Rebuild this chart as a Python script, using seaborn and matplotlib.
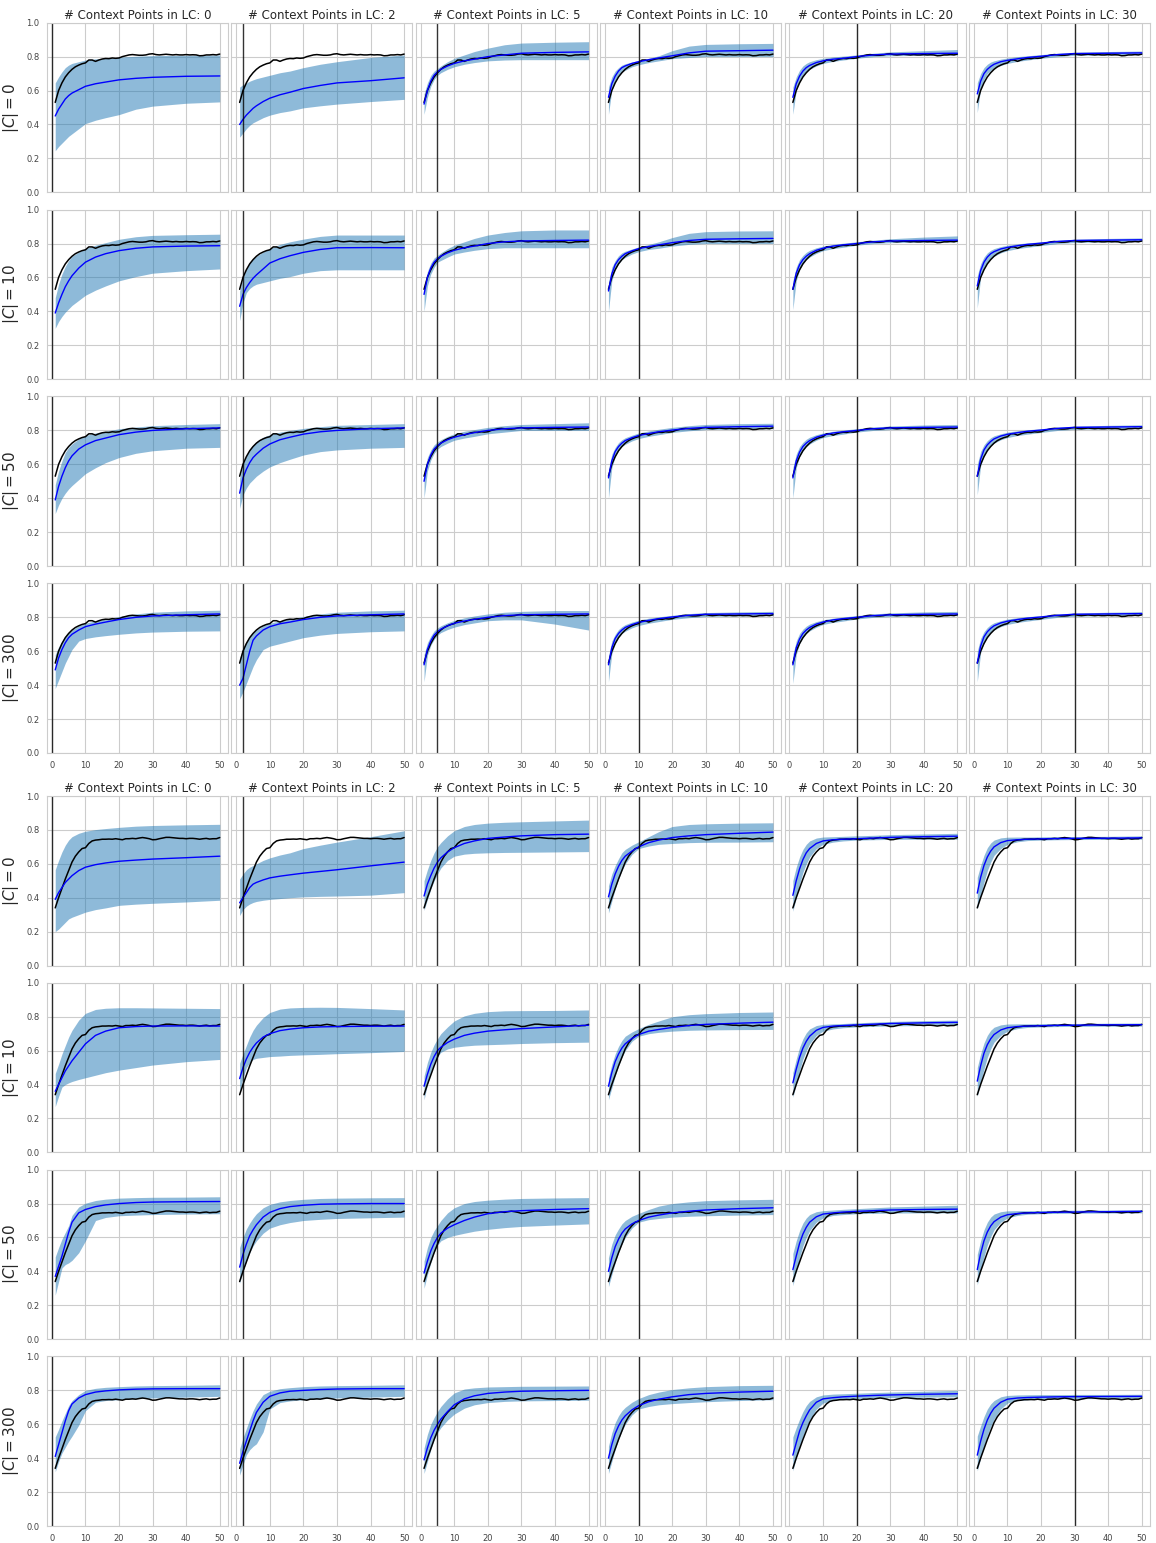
import matplotlib
matplotlib.use("Agg")
import matplotlib.pyplot as plt
import seaborn as sns

# Step positions sampled for the model curves (mean and band)
XS = [1, 2, 3, 4, 5, 6, 8, 10, 13, 16, 20, 25, 30, 40, 50]
# Full step axis for the reference (black) curves
STEPS = list(range(1, 51))

LC_POINTS = [0, 2, 5, 10, 20, 30]
C_SIZES = [0, 10, 50, 300]

# Reference curve, upper block
TRUTH_TOP = [0.53, 0.60, 0.645, 0.68, 0.705, 0.725, 0.74, 0.75, 0.758, 0.763,
             0.78, 0.78, 0.772, 0.78, 0.786, 0.789, 0.788, 0.792, 0.79, 0.792,
             0.80, 0.805, 0.81, 0.812, 0.81, 0.808, 0.808, 0.81, 0.815, 0.817,
             0.812, 0.81, 0.812, 0.814, 0.812, 0.81, 0.812, 0.81, 0.81, 0.812,
             0.81, 0.811, 0.81, 0.805, 0.806, 0.81, 0.81, 0.812, 0.81, 0.815]
# Reference curve, lower block
TRUTH_BOTTOM = [0.34, 0.40, 0.455, 0.51, 0.56, 0.61, 0.645, 0.67, 0.69, 0.695,
                0.72, 0.735, 0.74, 0.742, 0.745, 0.745, 0.746, 0.745, 0.748, 0.745,
                0.742, 0.748, 0.748, 0.75, 0.748, 0.752, 0.755, 0.752, 0.748, 0.742,
                0.743, 0.748, 0.752, 0.756, 0.756, 0.754, 0.752, 0.75, 0.75, 0.748,
                0.75, 0.75, 0.748, 0.745, 0.748, 0.75, 0.746, 0.748, 0.748, 0.755]

# ---------------- upper block ----------------
top_c0_mean = [
    [0.45, 0.49, 0.52, 0.55, 0.57, 0.585, 0.605, 0.625, 0.64, 0.65, 0.663, 0.672, 0.678, 0.684, 0.686],
    [0.40, 0.43, 0.455, 0.475, 0.495, 0.51, 0.535, 0.555, 0.575, 0.59, 0.612, 0.63, 0.645, 0.658, 0.675],
    [0.52, 0.60, 0.655, 0.69, 0.71, 0.725, 0.745, 0.76, 0.775, 0.785, 0.80, 0.81, 0.82, 0.825, 0.828],
    [0.56, 0.64, 0.685, 0.715, 0.735, 0.745, 0.76, 0.77, 0.782, 0.792, 0.805, 0.822, 0.832, 0.835, 0.838],
    [0.56, 0.64, 0.685, 0.715, 0.735, 0.748, 0.765, 0.775, 0.785, 0.79, 0.80, 0.81, 0.815, 0.818, 0.82],
    [0.58, 0.655, 0.70, 0.725, 0.742, 0.755, 0.77, 0.778, 0.787, 0.795, 0.802, 0.812, 0.818, 0.82, 0.822],
]
top_c0_lo = [
    [0.245, 0.27, 0.29, 0.31, 0.33, 0.345, 0.375, 0.405, 0.425, 0.44, 0.458, 0.49, 0.508, 0.525, 0.533],
    [0.325, 0.35, 0.375, 0.395, 0.41, 0.42, 0.44, 0.455, 0.47, 0.48, 0.498, 0.51, 0.52, 0.535, 0.548],
    [0.46, 0.56, 0.625, 0.665, 0.69, 0.705, 0.725, 0.74, 0.755, 0.765, 0.775, 0.78, 0.782, 0.782, 0.782],
    [0.46, 0.60, 0.655, 0.69, 0.71, 0.72, 0.74, 0.752, 0.765, 0.775, 0.788, 0.795, 0.80, 0.80, 0.80],
    [0.46, 0.60, 0.655, 0.69, 0.71, 0.725, 0.745, 0.76, 0.772, 0.78, 0.79, 0.80, 0.805, 0.808, 0.81],
    [0.47, 0.61, 0.665, 0.70, 0.718, 0.73, 0.748, 0.76, 0.772, 0.78, 0.79, 0.80, 0.808, 0.81, 0.812],
]
top_c0_hi = [
    [0.645, 0.68, 0.71, 0.735, 0.75, 0.76, 0.77, 0.78, 0.787, 0.79, 0.797, 0.802, 0.806, 0.808, 0.81],
    [0.62, 0.635, 0.645, 0.655, 0.663, 0.67, 0.68, 0.69, 0.705, 0.715, 0.735, 0.755, 0.77, 0.795, 0.81],
    [0.58, 0.645, 0.69, 0.715, 0.73, 0.745, 0.77, 0.79, 0.81, 0.83, 0.85, 0.87, 0.88, 0.885, 0.888],
    [0.62, 0.68, 0.715, 0.735, 0.75, 0.758, 0.768, 0.778, 0.79, 0.805, 0.835, 0.862, 0.872, 0.876, 0.878],
    [0.62, 0.68, 0.72, 0.745, 0.76, 0.77, 0.782, 0.79, 0.798, 0.803, 0.81, 0.82, 0.828, 0.835, 0.842],
    [0.645, 0.70, 0.735, 0.755, 0.768, 0.775, 0.785, 0.792, 0.80, 0.805, 0.812, 0.82, 0.826, 0.83, 0.833],
]

top_c10_mean = [
    [0.39, 0.45, 0.50, 0.545, 0.58, 0.61, 0.655, 0.69, 0.72, 0.74, 0.758, 0.772, 0.78, 0.785, 0.787],
    [0.43, 0.50, 0.54, 0.57, 0.595, 0.615, 0.65, 0.685, 0.71, 0.728, 0.748, 0.765, 0.775, 0.776, 0.775],
    [0.50, 0.60, 0.655, 0.69, 0.71, 0.725, 0.745, 0.76, 0.775, 0.785, 0.80, 0.81, 0.815, 0.818, 0.82],
    [0.52, 0.62, 0.675, 0.705, 0.725, 0.74, 0.757, 0.77, 0.782, 0.792, 0.805, 0.818, 0.825, 0.828, 0.83],
    [0.53, 0.625, 0.675, 0.705, 0.725, 0.74, 0.76, 0.772, 0.785, 0.792, 0.80, 0.81, 0.815, 0.818, 0.82],
    [0.55, 0.64, 0.69, 0.72, 0.74, 0.752, 0.768, 0.777, 0.787, 0.795, 0.802, 0.812, 0.818, 0.82, 0.822],
]
top_c10_lo = [
    [0.30, 0.34, 0.37, 0.395, 0.415, 0.435, 0.465, 0.495, 0.525, 0.55, 0.58, 0.605, 0.625, 0.64, 0.65],
    [0.345, 0.45, 0.51, 0.535, 0.55, 0.56, 0.57, 0.58, 0.595, 0.605, 0.625, 0.64, 0.645, 0.645, 0.645],
    [0.40, 0.55, 0.62, 0.66, 0.69, 0.70, 0.72, 0.738, 0.75, 0.76, 0.77, 0.775, 0.775, 0.775, 0.775],
    [0.40, 0.58, 0.645, 0.68, 0.705, 0.718, 0.738, 0.752, 0.765, 0.772, 0.785, 0.795, 0.80, 0.80, 0.80],
    [0.41, 0.58, 0.645, 0.68, 0.705, 0.72, 0.742, 0.758, 0.77, 0.778, 0.79, 0.80, 0.805, 0.808, 0.81],
    [0.42, 0.60, 0.655, 0.69, 0.712, 0.725, 0.745, 0.758, 0.77, 0.778, 0.788, 0.80, 0.806, 0.81, 0.812],
]
top_c10_hi = [
    [0.48, 0.56, 0.62, 0.665, 0.70, 0.725, 0.75, 0.77, 0.79, 0.805, 0.825, 0.84, 0.848, 0.852, 0.855],
    [0.52, 0.60, 0.65, 0.685, 0.71, 0.725, 0.75, 0.77, 0.795, 0.81, 0.826, 0.842, 0.85, 0.85, 0.85],
    [0.54, 0.635, 0.685, 0.715, 0.73, 0.745, 0.77, 0.79, 0.81, 0.83, 0.85, 0.865, 0.875, 0.88, 0.88],
    [0.57, 0.66, 0.70, 0.728, 0.745, 0.755, 0.768, 0.78, 0.795, 0.81, 0.835, 0.86, 0.87, 0.874, 0.875],
    [0.58, 0.66, 0.705, 0.73, 0.748, 0.76, 0.775, 0.785, 0.795, 0.802, 0.81, 0.82, 0.828, 0.838, 0.845],
    [0.61, 0.68, 0.72, 0.745, 0.76, 0.77, 0.782, 0.79, 0.798, 0.804, 0.81, 0.82, 0.825, 0.83, 0.833],
]

top_c50_mean = [
    [0.39, 0.47, 0.53, 0.58, 0.62, 0.65, 0.69, 0.715, 0.74, 0.755, 0.775, 0.79, 0.80, 0.81, 0.815],
    [0.43, 0.52, 0.57, 0.61, 0.64, 0.66, 0.695, 0.72, 0.745, 0.76, 0.778, 0.792, 0.80, 0.81, 0.815],
    [0.50, 0.60, 0.655, 0.69, 0.71, 0.725, 0.745, 0.76, 0.775, 0.787, 0.80, 0.81, 0.815, 0.818, 0.82],
    [0.52, 0.62, 0.675, 0.705, 0.725, 0.74, 0.757, 0.77, 0.782, 0.792, 0.802, 0.812, 0.818, 0.822, 0.825],
    [0.52, 0.62, 0.672, 0.705, 0.725, 0.74, 0.76, 0.772, 0.785, 0.792, 0.80, 0.81, 0.815, 0.818, 0.82],
    [0.53, 0.63, 0.685, 0.715, 0.735, 0.75, 0.767, 0.777, 0.787, 0.795, 0.802, 0.812, 0.818, 0.82, 0.822],
]
top_c50_lo = [
    [0.31, 0.36, 0.40, 0.43, 0.455, 0.475, 0.51, 0.545, 0.58, 0.61, 0.64, 0.665, 0.68, 0.695, 0.70],
    [0.34, 0.42, 0.46, 0.49, 0.51, 0.53, 0.56, 0.585, 0.61, 0.63, 0.655, 0.675, 0.685, 0.695, 0.70],
    [0.40, 0.56, 0.625, 0.665, 0.69, 0.705, 0.725, 0.742, 0.755, 0.765, 0.78, 0.79, 0.80, 0.80, 0.80],
    [0.40, 0.58, 0.645, 0.68, 0.705, 0.718, 0.738, 0.752, 0.765, 0.775, 0.788, 0.798, 0.805, 0.808, 0.81],
    [0.40, 0.58, 0.645, 0.68, 0.705, 0.72, 0.742, 0.758, 0.77, 0.778, 0.79, 0.80, 0.805, 0.808, 0.81],
    [0.42, 0.59, 0.65, 0.685, 0.71, 0.725, 0.745, 0.758, 0.77, 0.778, 0.788, 0.80, 0.806, 0.81, 0.812],
]
top_c50_hi = [
    [0.48, 0.56, 0.62, 0.67, 0.70, 0.72, 0.75, 0.77, 0.785, 0.795, 0.81, 0.82, 0.828, 0.835, 0.84],
    [0.52, 0.60, 0.65, 0.69, 0.715, 0.735, 0.76, 0.775, 0.79, 0.80, 0.812, 0.822, 0.83, 0.835, 0.84],
    [0.56, 0.64, 0.685, 0.715, 0.732, 0.745, 0.765, 0.78, 0.795, 0.805, 0.818, 0.828, 0.835, 0.84, 0.845],
    [0.57, 0.66, 0.70, 0.728, 0.745, 0.757, 0.772, 0.785, 0.797, 0.807, 0.818, 0.828, 0.835, 0.84, 0.842],
    [0.58, 0.66, 0.705, 0.73, 0.748, 0.76, 0.775, 0.785, 0.795, 0.802, 0.81, 0.82, 0.826, 0.832, 0.835],
    [0.60, 0.675, 0.715, 0.74, 0.757, 0.768, 0.78, 0.79, 0.798, 0.804, 0.81, 0.82, 0.825, 0.83, 0.833],
]

top_c300_mean = [
    [0.49, 0.56, 0.61, 0.65, 0.68, 0.70, 0.725, 0.745, 0.76, 0.772, 0.787, 0.80, 0.808, 0.815, 0.82],
    [0.40, 0.44, 0.52, 0.60, 0.665, 0.69, 0.725, 0.745, 0.762, 0.772, 0.787, 0.80, 0.808, 0.815, 0.82],
    [0.52, 0.61, 0.66, 0.695, 0.715, 0.73, 0.75, 0.765, 0.778, 0.788, 0.80, 0.81, 0.815, 0.818, 0.82],
    [0.52, 0.62, 0.675, 0.705, 0.725, 0.74, 0.757, 0.77, 0.782, 0.792, 0.802, 0.812, 0.818, 0.82, 0.822],
    [0.52, 0.62, 0.672, 0.705, 0.725, 0.74, 0.76, 0.772, 0.785, 0.792, 0.80, 0.81, 0.815, 0.818, 0.82],
    [0.53, 0.63, 0.685, 0.715, 0.735, 0.75, 0.767, 0.777, 0.787, 0.795, 0.802, 0.812, 0.818, 0.82, 0.822],
]
top_c300_lo = [
    [0.38, 0.43, 0.48, 0.53, 0.57, 0.61, 0.66, 0.675, 0.685, 0.692, 0.70, 0.708, 0.713, 0.718, 0.72],
    [0.32, 0.36, 0.41, 0.46, 0.51, 0.55, 0.61, 0.63, 0.645, 0.66, 0.68, 0.695, 0.705, 0.715, 0.72],
    [0.42, 0.575, 0.635, 0.67, 0.695, 0.71, 0.728, 0.742, 0.757, 0.767, 0.78, 0.785, 0.785, 0.76, 0.725],
    [0.42, 0.585, 0.645, 0.68, 0.705, 0.718, 0.738, 0.752, 0.765, 0.775, 0.788, 0.798, 0.805, 0.808, 0.81],
    [0.41, 0.58, 0.645, 0.68, 0.705, 0.72, 0.742, 0.758, 0.77, 0.778, 0.79, 0.80, 0.805, 0.808, 0.81],
    [0.42, 0.59, 0.65, 0.685, 0.71, 0.725, 0.745, 0.758, 0.77, 0.778, 0.788, 0.80, 0.806, 0.81, 0.812],
]
top_c300_hi = [
    [0.58, 0.625, 0.66, 0.69, 0.71, 0.725, 0.75, 0.765, 0.78, 0.79, 0.805, 0.82, 0.83, 0.838, 0.842],
    [0.56, 0.62, 0.66, 0.69, 0.71, 0.725, 0.75, 0.765, 0.78, 0.79, 0.805, 0.82, 0.83, 0.838, 0.842],
    [0.58, 0.65, 0.69, 0.72, 0.737, 0.75, 0.768, 0.782, 0.797, 0.808, 0.82, 0.83, 0.835, 0.84, 0.84],
    [0.57, 0.66, 0.70, 0.728, 0.745, 0.757, 0.772, 0.783, 0.795, 0.803, 0.812, 0.822, 0.828, 0.832, 0.835],
    [0.58, 0.66, 0.705, 0.73, 0.748, 0.76, 0.775, 0.785, 0.795, 0.802, 0.81, 0.82, 0.826, 0.832, 0.835],
    [0.60, 0.675, 0.715, 0.74, 0.757, 0.768, 0.78, 0.79, 0.798, 0.804, 0.81, 0.82, 0.825, 0.83, 0.833],
]

# ---------------- lower block ----------------
bot_c0_mean = [
    [0.39, 0.43, 0.46, 0.49, 0.51, 0.53, 0.56, 0.58, 0.595, 0.605, 0.615, 0.622, 0.628, 0.636, 0.645],
    [0.37, 0.40, 0.43, 0.46, 0.48, 0.49, 0.505, 0.517, 0.527, 0.535, 0.545, 0.555, 0.565, 0.588, 0.61],
    [0.41, 0.48, 0.53, 0.575, 0.61, 0.635, 0.67, 0.695, 0.72, 0.735, 0.75, 0.758, 0.765, 0.772, 0.775],
    [0.405, 0.48, 0.54, 0.585, 0.62, 0.645, 0.675, 0.70, 0.725, 0.74, 0.755, 0.765, 0.772, 0.78, 0.787],
    [0.414, 0.50, 0.57, 0.625, 0.665, 0.69, 0.72, 0.735, 0.742, 0.745, 0.748, 0.752, 0.756, 0.76, 0.763],
    [0.427, 0.52, 0.59, 0.64, 0.675, 0.70, 0.725, 0.737, 0.742, 0.745, 0.747, 0.749, 0.75, 0.751, 0.753],
]
bot_c0_lo = [
    [0.20, 0.215, 0.235, 0.255, 0.275, 0.285, 0.30, 0.315, 0.33, 0.34, 0.355, 0.362, 0.367, 0.375, 0.385],
    [0.295, 0.33, 0.35, 0.363, 0.372, 0.378, 0.385, 0.39, 0.395, 0.40, 0.405, 0.408, 0.41, 0.415, 0.43],
    [0.325, 0.39, 0.45, 0.50, 0.54, 0.575, 0.62, 0.645, 0.657, 0.662, 0.665, 0.667, 0.668, 0.67, 0.672],
    [0.31, 0.38, 0.45, 0.51, 0.56, 0.60, 0.655, 0.69, 0.705, 0.715, 0.72, 0.725, 0.727, 0.728, 0.73],
    [0.32, 0.40, 0.48, 0.55, 0.60, 0.64, 0.69, 0.715, 0.728, 0.735, 0.74, 0.742, 0.744, 0.745, 0.745],
    [0.335, 0.41, 0.49, 0.56, 0.61, 0.65, 0.69, 0.715, 0.73, 0.737, 0.74, 0.742, 0.743, 0.744, 0.745],
]
bot_c0_hi = [
    [0.565, 0.62, 0.67, 0.71, 0.74, 0.76, 0.78, 0.792, 0.802, 0.808, 0.815, 0.822, 0.826, 0.83, 0.833],
    [0.51, 0.54, 0.565, 0.58, 0.59, 0.60, 0.62, 0.635, 0.652, 0.665, 0.69, 0.71, 0.728, 0.76, 0.795],
    [0.50, 0.565, 0.62, 0.665, 0.70, 0.725, 0.765, 0.795, 0.82, 0.832, 0.84, 0.845, 0.848, 0.853, 0.858],
    [0.47, 0.54, 0.59, 0.63, 0.665, 0.685, 0.71, 0.73, 0.76, 0.79, 0.82, 0.832, 0.836, 0.84, 0.842],
    [0.50, 0.58, 0.64, 0.685, 0.715, 0.735, 0.752, 0.758, 0.76, 0.762, 0.765, 0.768, 0.772, 0.776, 0.78],
    [0.52, 0.59, 0.65, 0.695, 0.723, 0.74, 0.753, 0.757, 0.758, 0.758, 0.759, 0.76, 0.761, 0.762, 0.765],
]

bot_c10_mean = [
    [0.36, 0.40, 0.44, 0.48, 0.51, 0.54, 0.59, 0.64, 0.69, 0.715, 0.735, 0.742, 0.745, 0.746, 0.745],
    [0.435, 0.50, 0.55, 0.59, 0.62, 0.645, 0.68, 0.70, 0.718, 0.727, 0.735, 0.74, 0.742, 0.744, 0.745],
    [0.39, 0.46, 0.52, 0.565, 0.60, 0.62, 0.648, 0.668, 0.69, 0.703, 0.715, 0.723, 0.73, 0.74, 0.75],
    [0.39, 0.47, 0.535, 0.58, 0.615, 0.64, 0.672, 0.695, 0.715, 0.725, 0.737, 0.748, 0.755, 0.762, 0.768],
    [0.41, 0.49, 0.56, 0.615, 0.655, 0.685, 0.72, 0.737, 0.745, 0.748, 0.752, 0.756, 0.76, 0.764, 0.767],
    [0.42, 0.51, 0.585, 0.635, 0.67, 0.695, 0.722, 0.735, 0.742, 0.745, 0.747, 0.749, 0.75, 0.752, 0.753],
]
bot_c10_lo = [
    [0.27, 0.33, 0.385, 0.40, 0.41, 0.418, 0.43, 0.44, 0.455, 0.47, 0.485, 0.50, 0.515, 0.535, 0.548],
    [0.355, 0.44, 0.50, 0.53, 0.548, 0.555, 0.56, 0.565, 0.568, 0.572, 0.575, 0.578, 0.582, 0.588, 0.595],
    [0.31, 0.40, 0.47, 0.525, 0.565, 0.59, 0.61, 0.62, 0.627, 0.632, 0.635, 0.638, 0.642, 0.647, 0.65],
    [0.31, 0.38, 0.45, 0.51, 0.56, 0.60, 0.655, 0.685, 0.70, 0.708, 0.715, 0.72, 0.722, 0.724, 0.725],
    [0.325, 0.40, 0.48, 0.55, 0.60, 0.64, 0.69, 0.715, 0.728, 0.735, 0.74, 0.743, 0.746, 0.748, 0.75],
    [0.33, 0.41, 0.49, 0.56, 0.61, 0.65, 0.69, 0.715, 0.73, 0.737, 0.74, 0.742, 0.743, 0.744, 0.745],
]
bot_c10_hi = [
    [0.465, 0.52, 0.58, 0.63, 0.68, 0.72, 0.78, 0.82, 0.843, 0.85, 0.853, 0.853, 0.852, 0.85, 0.848],
    [0.525, 0.58, 0.63, 0.68, 0.72, 0.75, 0.795, 0.825, 0.845, 0.852, 0.855, 0.856, 0.855, 0.848, 0.84],
    [0.45, 0.53, 0.59, 0.635, 0.67, 0.70, 0.74, 0.775, 0.805, 0.82, 0.83, 0.835, 0.836, 0.837, 0.84],
    [0.44, 0.52, 0.58, 0.625, 0.66, 0.685, 0.71, 0.73, 0.755, 0.775, 0.80, 0.812, 0.818, 0.825, 0.828],
    [0.47, 0.55, 0.62, 0.67, 0.705, 0.728, 0.748, 0.755, 0.758, 0.76, 0.764, 0.768, 0.772, 0.777, 0.78],
    [0.50, 0.58, 0.645, 0.69, 0.72, 0.738, 0.752, 0.757, 0.758, 0.758, 0.759, 0.76, 0.76, 0.762, 0.763],
]

bot_c50_mean = [
    [0.37, 0.43, 0.49, 0.56, 0.63, 0.69, 0.745, 0.765, 0.782, 0.792, 0.80, 0.806, 0.809, 0.811, 0.812],
    [0.425, 0.50, 0.56, 0.61, 0.645, 0.675, 0.72, 0.748, 0.77, 0.782, 0.79, 0.796, 0.798, 0.80, 0.80],
    [0.39, 0.46, 0.52, 0.565, 0.60, 0.625, 0.655, 0.675, 0.70, 0.72, 0.74, 0.752, 0.758, 0.765, 0.77],
    [0.40, 0.48, 0.545, 0.59, 0.625, 0.65, 0.68, 0.70, 0.72, 0.732, 0.745, 0.755, 0.762, 0.77, 0.775],
    [0.41, 0.49, 0.565, 0.62, 0.66, 0.69, 0.722, 0.738, 0.745, 0.75, 0.754, 0.758, 0.762, 0.765, 0.767],
    [0.41, 0.505, 0.58, 0.632, 0.668, 0.693, 0.72, 0.734, 0.741, 0.745, 0.747, 0.749, 0.75, 0.752, 0.754],
]
bot_c50_lo = [
    [0.26, 0.34, 0.42, 0.44, 0.45, 0.465, 0.51, 0.58, 0.70, 0.718, 0.728, 0.732, 0.735, 0.738, 0.74],
    [0.33, 0.40, 0.46, 0.51, 0.55, 0.58, 0.625, 0.655, 0.675, 0.688, 0.70, 0.707, 0.712, 0.716, 0.72],
    [0.30, 0.38, 0.45, 0.51, 0.555, 0.58, 0.60, 0.612, 0.625, 0.637, 0.648, 0.658, 0.665, 0.673, 0.68],
    [0.31, 0.38, 0.45, 0.51, 0.56, 0.60, 0.655, 0.69, 0.705, 0.712, 0.72, 0.725, 0.728, 0.732, 0.735],
    [0.315, 0.40, 0.48, 0.55, 0.60, 0.64, 0.69, 0.715, 0.73, 0.735, 0.74, 0.742, 0.744, 0.745, 0.745],
    [0.32, 0.405, 0.485, 0.555, 0.605, 0.645, 0.69, 0.715, 0.73, 0.737, 0.74, 0.742, 0.743, 0.744, 0.745],
]
bot_c50_hi = [
    [0.485, 0.54, 0.59, 0.63, 0.67, 0.73, 0.78, 0.802, 0.818, 0.826, 0.832, 0.835, 0.837, 0.838, 0.84],
    [0.54, 0.60, 0.65, 0.685, 0.715, 0.74, 0.775, 0.795, 0.81, 0.818, 0.825, 0.83, 0.832, 0.834, 0.835],
    [0.46, 0.54, 0.60, 0.64, 0.67, 0.70, 0.745, 0.775, 0.80, 0.812, 0.82, 0.826, 0.83, 0.833, 0.835],
    [0.48, 0.56, 0.615, 0.65, 0.68, 0.70, 0.725, 0.742, 0.765, 0.785, 0.80, 0.81, 0.817, 0.822, 0.825],
    [0.505, 0.58, 0.64, 0.685, 0.715, 0.735, 0.752, 0.758, 0.762, 0.766, 0.77, 0.775, 0.78, 0.785, 0.79],
    [0.50, 0.58, 0.645, 0.69, 0.72, 0.738, 0.752, 0.757, 0.758, 0.758, 0.759, 0.76, 0.761, 0.762, 0.764],
]

bot_c300_mean = [
    [0.41, 0.48, 0.55, 0.62, 0.68, 0.72, 0.755, 0.775, 0.79, 0.797, 0.803, 0.807, 0.809, 0.81, 0.81],
    [0.37, 0.44, 0.50, 0.56, 0.62, 0.67, 0.73, 0.765, 0.785, 0.795, 0.80, 0.805, 0.808, 0.81, 0.81],
    [0.39, 0.46, 0.52, 0.565, 0.60, 0.63, 0.675, 0.715, 0.75, 0.768, 0.782, 0.79, 0.795, 0.798, 0.80],
    [0.40, 0.48, 0.545, 0.59, 0.625, 0.65, 0.685, 0.71, 0.733, 0.748, 0.762, 0.775, 0.782, 0.79, 0.795],
    [0.418, 0.49, 0.56, 0.61, 0.65, 0.685, 0.73, 0.75, 0.757, 0.762, 0.766, 0.77, 0.773, 0.777, 0.78],
    [0.418, 0.50, 0.57, 0.625, 0.665, 0.695, 0.73, 0.748, 0.755, 0.758, 0.76, 0.762, 0.763, 0.764, 0.765],
]
bot_c300_lo = [
    [0.32, 0.38, 0.43, 0.465, 0.50, 0.53, 0.595, 0.68, 0.73, 0.74, 0.745, 0.75, 0.755, 0.76, 0.765],
    [0.30, 0.36, 0.42, 0.45, 0.47, 0.485, 0.555, 0.69, 0.728, 0.738, 0.745, 0.75, 0.755, 0.76, 0.765],
    [0.31, 0.38, 0.45, 0.51, 0.55, 0.58, 0.625, 0.66, 0.695, 0.715, 0.728, 0.735, 0.738, 0.74, 0.742],
    [0.31, 0.38, 0.45, 0.51, 0.56, 0.60, 0.655, 0.69, 0.705, 0.715, 0.722, 0.728, 0.733, 0.74, 0.745],
    [0.325, 0.40, 0.47, 0.53, 0.58, 0.625, 0.69, 0.725, 0.742, 0.748, 0.752, 0.755, 0.757, 0.76, 0.762],
    [0.325, 0.40, 0.47, 0.535, 0.585, 0.63, 0.69, 0.725, 0.74, 0.745, 0.748, 0.75, 0.751, 0.752, 0.753],
]
bot_c300_hi = [
    [0.525, 0.57, 0.62, 0.665, 0.71, 0.74, 0.775, 0.80, 0.812, 0.818, 0.822, 0.826, 0.828, 0.83, 0.833],
    [0.455, 0.52, 0.575, 0.63, 0.68, 0.72, 0.775, 0.795, 0.81, 0.816, 0.822, 0.826, 0.828, 0.83, 0.833],
    [0.46, 0.54, 0.60, 0.64, 0.675, 0.705, 0.75, 0.785, 0.808, 0.815, 0.82, 0.822, 0.824, 0.825, 0.826],
    [0.47, 0.55, 0.61, 0.65, 0.68, 0.70, 0.73, 0.752, 0.775, 0.79, 0.805, 0.815, 0.822, 0.828, 0.83],
    [0.525, 0.58, 0.63, 0.675, 0.71, 0.735, 0.762, 0.773, 0.778, 0.78, 0.783, 0.787, 0.79, 0.795, 0.80],
    [0.53, 0.59, 0.645, 0.69, 0.72, 0.74, 0.762, 0.77, 0.773, 0.774, 0.775, 0.775, 0.776, 0.776, 0.777],
]

blocks = [
    (TRUTH_TOP,
     [top_c0_mean, top_c10_mean, top_c50_mean, top_c300_mean],
     [top_c0_lo, top_c10_lo, top_c50_lo, top_c300_lo],
     [top_c0_hi, top_c10_hi, top_c50_hi, top_c300_hi]),
    (TRUTH_BOTTOM,
     [bot_c0_mean, bot_c10_mean, bot_c50_mean, bot_c300_mean],
     [bot_c0_lo, bot_c10_lo, bot_c50_lo, bot_c300_lo],
     [bot_c0_hi, bot_c10_hi, bot_c50_hi, bot_c300_hi]),
]

sns.set_style("whitegrid")
plt.rcParams["font.family"] = ["DejaVu Sans"]

fig = plt.figure(figsize=(11.56, 15.43), dpi=100)
W, H = 1156, 1543
gs_top = fig.add_gridspec(4, 6, left=47 / W, right=1150 / W, top=1 - 22.7 / H,
                          bottom=1 - 753 / H, wspace=0.019, hspace=0.102)
gs_bot = fig.add_gridspec(4, 6, left=47 / W, right=1150 / W, top=1 - 796 / H,
                          bottom=1 - 1526 / H, wspace=0.019, hspace=0.102)

for gs, (truth, means, los, his) in zip([gs_top, gs_bot], blocks):
    for r, c_size in enumerate(C_SIZES):
        for c, lc in enumerate(LC_POINTS):
            ax = fig.add_subplot(gs[r, c])
            ax.fill_between(XS, los[r][c], his[r][c], color="C0", alpha=0.5, linewidth=0)
            sns.lineplot(x=STEPS, y=truth, color="black", linewidth=1.1, ax=ax)
            sns.lineplot(x=XS, y=means[r][c], color="blue", linewidth=1.0, ax=ax)
            ax.axvline(lc, color="black", linewidth=1.0, alpha=0.8)
            ax.set_ylim(0, 1)
            ax.set_yticks([0.0, 0.2, 0.4, 0.6, 0.8, 1.0])
            ax.set_xticks([0, 10, 20, 30, 40, 50])
            ax.tick_params(labelsize=6, pad=2, colors="#444444")
            if c == 0:
                ax.set_ylabel(rf"$|C| = {c_size}$", fontsize=11)
            else:
                ax.set_yticklabels([])
                ax.set_ylabel("")
            if r != len(C_SIZES) - 1:
                ax.set_xticklabels([])
            if r == 0:
                ax.set_title(f"# Context Points in LC: {lc}", fontsize=8.5, pad=3)

fig.savefig("out.png", dpi=100)
